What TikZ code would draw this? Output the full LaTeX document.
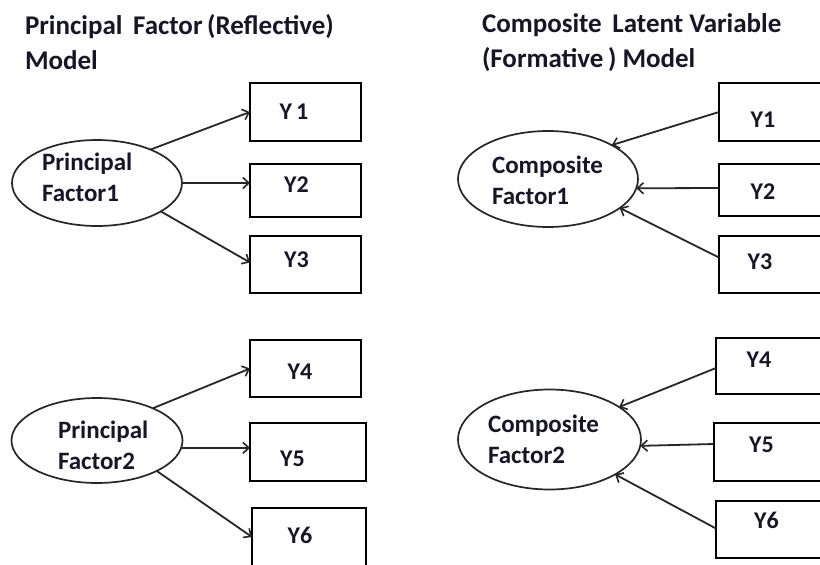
\documentclass[tikz,border=0pt]{standalone}
\usepackage{fontspec}
\setmainfont{Carlito}
\usetikzlibrary{arrows.meta,shapes.geometric}
\definecolor{ink}{RGB}{22,22,40}
\begin{document}
\begin{tikzpicture}[x=1pt,y=-1pt,
  every node/.style={inner sep=0pt,outer sep=0pt},
  titletext/.style={anchor=west,align=left,text=ink,font=\bfseries\fontsize{27}{35}\selectfont},
  labeltext/.style={align=left,text=ink,font=\bfseries\fontsize{25}{31}\selectfont},
  boxtext/.style={text=ink,font=\bfseries\fontsize{24}{28}\selectfont},
  latent/.style={draw,ellipse,line width=1.7pt,draw=black!85},
  indicator/.style={draw,rectangle,line width=2pt},
  path/.style={line width=1.8pt,draw=black!85,-{Straight Barb[length=6pt,width=11pt,line width=1.6pt]}}
]
\clip (0,0) rectangle (820,565);
\fill[white] (0,0) rectangle (820,565);

% ---- titles ----
\node[titletext] (tl) at (25,42.5) {Principal\, Factor\,(Reflective)\\Model};
\node[titletext] (tr) at (482,42.5) {Composite\, Latent Variable\\(Formative\,) Model};

% ---- reflective model, upper block ----
\node[latent,minimum width=170,minimum height=86] (e1) at (97,183) {};
\node[labeltext,anchor=west] (t1) at (42,177) {Principal\\Factor1};
\node[indicator,minimum width=111,minimum height=58] (y1) at (305.5,112) {};
\node[indicator,minimum width=111,minimum height=53] (y2) at (305.5,190.5) {};
\node[indicator,minimum width=111,minimum height=57] (y3) at (305.5,264.5) {};
\node[boxtext] (ty1) at (294,112) {Y\,1};
\node[boxtext] (ty2) at (296.5,185) {Y2};
\node[boxtext] (ty3) at (296.5,260) {Y3};
\draw[path] (e1.32) -- (y1.west);
\draw[path] (e1.east) -- (e1.east -| y2.west);
\draw[path] (e1.-24) -- ([yshift=2pt]y3.west);

% ---- reflective model, lower block ----
\node[latent,minimum width=171,minimum height=85] (e2) at (97,440.5) {};
\node[labeltext,anchor=west] (t2) at (58,445) {Principal\\Factor2};
\node[indicator,minimum width=111,minimum height=57] (y4) at (305.5,368.5) {};
\node[indicator,minimum width=116,minimum height=58] (y5) at (308,452) {};
\node[indicator,minimum width=114,minimum height=58] (y6) at (309,537) {};
\node[boxtext] (ty4) at (300,372) {Y4};
\node[boxtext] (ty5) at (292.5,459) {Y5};
\node[boxtext] (ty6) at (300,535) {Y6};
\draw[path] (e2.30) -- (y4.west);
\draw[path] (e2.-5) -- (e2.-5 -| y5.west);
\draw[path] (e2.-27) -- (y6.west);

% ---- formative model, upper block ----
\node[latent,minimum width=180,minimum height=96] (e3) at (548,179) {};
\node[labeltext] (t3) at (547.5,180) {Composite\\Factor1};
\node[indicator,minimum width=110,minimum height=58] (r1) at (774,112) {};
\node[indicator,minimum width=110,minimum height=52] (r2) at (774,190) {};
\node[indicator,minimum width=110,minimum height=57] (r3) at (774,264.5) {};
\node[boxtext] (tr1) at (763,120) {Y1};
\node[boxtext] (tr2) at (763,192) {Y2};
\node[boxtext] (tr3) at (760,262) {Y3};
\draw[path] (r1.west) -- (e3.28);
\draw[path] ([yshift=2pt]r2.west) -- (e3.-6);
\draw[path] ([yshift=7pt]r3.west) -- (e3.-22);

% ---- formative model, lower block ----
\node[latent,minimum width=183,minimum height=100] (e4) at (549.5,439.5) {};
\node[labeltext] (t4) at (543.5,439.5) {Composite\\Factor2};
\node[indicator,minimum width=110,minimum height=56] (r4) at (771,366) {};
\node[indicator,minimum width=112,minimum height=58] (r5) at (770,452) {};
\node[indicator,minimum width=110,minimum height=57] (r6) at (771,529.5) {};
\node[boxtext] (tr4) at (759,360) {Y4};
\node[boxtext] (tr5) at (761.5,445) {Y5};
\node[boxtext] (tr6) at (766.5,520) {Y6};
\draw[path] ([yshift=-2pt]r4.west) -- (e4.25);
\draw[path] ([yshift=8pt]r5.west) -- (e4.-4);
\draw[path] ([yshift=1pt]r6.west) -- (e4.-28);
\end{tikzpicture}
\end{document}
